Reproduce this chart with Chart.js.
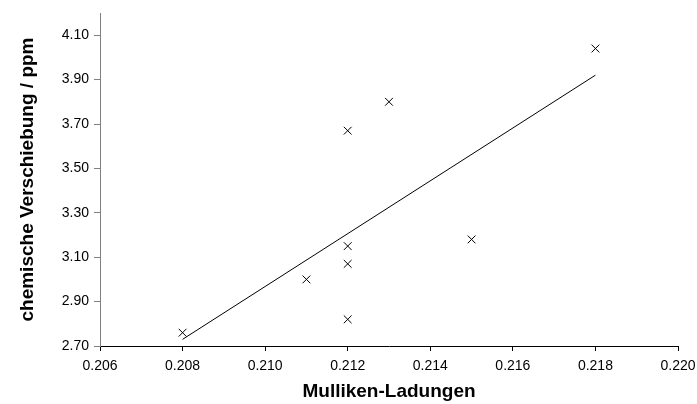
<!DOCTYPE html>
<html>
<head>
<meta charset="utf-8">
<script src="https://cdn.jsdelivr.net/npm/chart.js@4/dist/chart.umd.min.js"></script>
<style>
  html, body { margin: 0; padding: 0; background: #fff; }
  .chart-container { width: 697px; height: 404px; }
</style>
</head>
<body>
<div class="chart-container">
  <canvas id="chart" width="697" height="404"></canvas>
</div>
<script>
const charges = [0.208, 0.211, 0.212, 0.212, 0.212, 0.212, 0.213, 0.215, 0.218];
const shifts = [2.76, 3.00, 2.82, 3.07, 3.15, 3.67, 3.80, 3.18, 4.04];

// trend line end points
const trendX = [0.208, 0.218];
const trendY = [2.73, 3.92];

// tick labels
const xTicks = [0.206, 0.208, 0.210, 0.212, 0.214, 0.216, 0.218, 0.220];
const yTicks = [2.70, 2.90, 3.10, 3.30, 3.50, 3.70, 3.90, 4.10];

const fontFamily = '"Liberation Sans", Arial, sans-serif';

const ctx = document.getElementById('chart').getContext('2d');

new Chart(ctx, {
  type: 'scatter',
  data: {
    datasets: [
      {
        label: 'Messwerte',
        data: charges.map((x, i) => ({ x, y: shifts[i] })),
        pointStyle: 'crossRot',
        pointRadius: 5.5,
        pointBorderWidth: 1,
        borderColor: '#000',
        backgroundColor: '#000'
      },
      {
        label: 'Trend',
        data: trendX.map((x, i) => ({ x, y: trendY[i] })),
        showLine: true,
        pointRadius: 0,
        borderWidth: 1,
        borderColor: '#000'
      }
    ]
  },
  options: {
    responsive: false,
    animation: false,
    layout: { padding: { top: 13, right: 19, bottom: 0, left: 0 } },
    plugins: {
      legend: { display: false },
      tooltip: { enabled: false }
    },
    scales: {
      x: {
        type: 'linear',
        min: 0.206,
        max: 0.220,
        afterBuildTicks: (axis) => { axis.ticks = xTicks.map(v => ({ value: v })); },
        afterFit: (axis) => {
          axis.height = 58;
          // keep the plot edge where the original has it
          axis.paddingLeft = 0;
          axis.paddingRight = 0;
        },
        border: { color: '#000', width: 1 },
        grid: { drawOnChartArea: false, color: '#000', tickLength: 5 },
        ticks: {
          color: '#000',
          padding: 7,
          maxRotation: 0,
          autoSkip: false,
          font: { family: fontFamily, size: 14 },
          callback: (v) => Number(v).toFixed(3)
        },
        title: {
          display: true,
          text: 'Mulliken-Ladungen',
          color: '#000',
          padding: { top: 0, bottom: 1 },
          font: { family: fontFamily, size: 19, weight: 'bold' }
        }
      },
      y: {
        type: 'linear',
        min: 2.70,
        max: 4.20,
        afterBuildTicks: (axis) => { axis.ticks = yTicks.map(v => ({ value: v })); },
        afterFit: (axis) => {
          axis.width = 100;
          axis.paddingTop = 0;
          axis.paddingBottom = 0;
        },
        border: { color: '#808080', width: 1 },
        grid: { drawOnChartArea: false, color: '#808080', tickLength: 6 },
        ticks: {
          color: '#000',
          padding: 5,
          autoSkip: false,
          font: { family: fontFamily, size: 14 },
          callback: (v) => Number(v).toFixed(2)
        },
        title: {
          display: true,
          text: 'chemische Verschiebung / ppm',
          color: '#000',
          padding: { top: 16, bottom: 0 },
          font: { family: fontFamily, size: 19, weight: 'bold' }
        }
      }
    }
  }
});
</script>
</body>
</html>
